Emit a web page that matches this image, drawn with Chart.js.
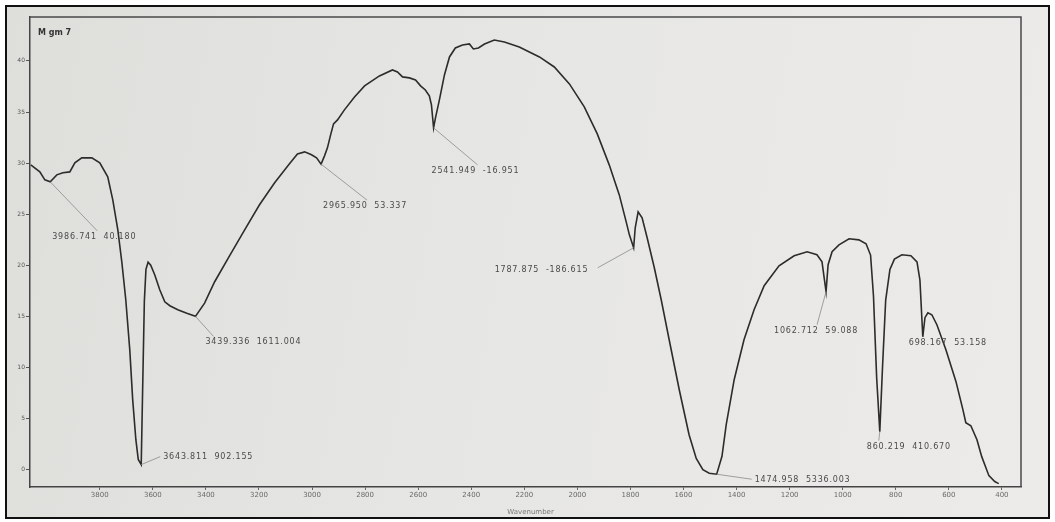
<!DOCTYPE html>
<html>
<head>
<meta charset="utf-8">
<script src="https://cdn.jsdelivr.net/npm/chart.js@4.4.0/dist/chart.umd.min.js"></script>
<style>
  html, body { margin: 0; padding: 0; background: #fff; }
  #sheet {
    position: absolute; left: 5px; top: 5px; width: 1041px; height: 510px;
    border: 2px solid #111;
    background: linear-gradient(100deg, #dededb 0%, #e6e6e4 45%, #ecebea 100%);
  }
  #wrap { position: absolute; left: 0; top: 0; width: 1055px; height: 522px; }
</style>
</head>
<body>
<div id="sheet"></div>
<div id="wrap"><canvas id="c" width="1055" height="522"></canvas></div>
<script>
// IR spectrum of sample "M gm 7": wavenumber (cm-1) against transmittance
const wavenumbers = [
  4060, 4026, 4007, 3986.741, 3962, 3939, 3913, 3894, 3868, 3830, 3800, 3770, 3751, 3732, 3717,
  3702, 3687, 3676, 3664, 3655, 3643.811, 3638, 3632, 3626, 3618, 3608, 3593, 3574, 3555, 3536,
  3506, 3472, 3439.336, 3405, 3367, 3311, 3254, 3198, 3141, 3085, 3055, 3028, 3002, 2983, 2965.950,
  2953, 2942, 2930, 2919, 2904, 2878, 2840, 2802, 2746, 2697, 2678, 2659, 2633, 2610, 2591,
  2573, 2558, 2550, 2541.949, 2535, 2520, 2501, 2482, 2460, 2433, 2407, 2392, 2373, 2350, 2313,
  2275, 2219, 2143, 2087, 2030, 1974, 1925, 1880, 1842, 1816, 1804, 1787.875, 1782, 1771, 1756,
  1737, 1710, 1684, 1654, 1616, 1579, 1552, 1527, 1503, 1474.958, 1455, 1439, 1409, 1372, 1334,
  1296, 1240, 1183, 1134, 1097, 1078, 1062.712, 1055, 1040, 1014, 976, 939, 912, 895, 884,
  872, 860.219, 850, 838, 822, 805, 777, 743, 720, 709, 698.167, 690, 679, 664, 645,
  611, 573, 547, 536, 517, 494, 476, 449, 427, 412
];
const transmittance = [
  29.83, 29.14, 28.36, 28.17, 28.85, 29.05, 29.14, 30.02, 30.51, 30.51, 30.02, 28.66, 26.41, 23.47, 20.34,
  16.63, 11.74, 6.85, 2.93, 1.0, 0.49, 8.5, 16.5, 19.6, 20.3, 20.0, 19.07, 17.6, 16.43, 16.04,
  15.65, 15.3, 15.0, 16.3, 18.39, 20.93, 23.47, 25.92, 28.07, 29.93, 30.90, 31.10, 30.81, 30.51, 29.9,
  30.71, 31.49, 32.76, 33.84, 34.23, 35.21, 36.48, 37.56, 38.53, 39.12, 38.92, 38.44, 38.34, 38.14, 37.56,
  37.16, 36.58, 35.7, 33.45, 34.4, 36.19, 38.63, 40.39, 41.27, 41.56, 41.66, 41.17, 41.27, 41.66, 42.05,
  41.86, 41.37, 40.39, 39.41, 37.75, 35.50, 32.86, 29.83, 26.89, 24.25, 22.98, 21.71, 23.67, 25.23, 24.65,
  22.69, 19.76, 16.63, 12.71, 7.82, 3.42, 1.1, 0.0, -0.35, -0.45, 1.3, 4.4, 8.80, 12.71, 15.65,
  18.0, 19.95, 20.93, 21.32, 21.03, 20.34, 17.41, 20.05, 21.32, 22.0, 22.59, 22.49, 22.10, 21.0, 17.0,
  9.0, 3.72, 10.0, 16.6, 19.6, 20.6, 21.03, 20.93, 20.34, 18.58, 13.0, 14.87, 15.35, 15.16, 14.18,
  11.74, 8.61, 5.87, 4.60, 4.30, 2.93, 1.27, -0.59, -1.17, -1.37
];

// Axis tick labels
const xTickValues = [3800, 3600, 3400, 3200, 3000, 2800, 2600, 2400, 2200, 2000, 1800, 1600, 1400, 1200, 1000, 800, 600, 400];
const yTickValues = [0, 5, 10, 15, 20, 25, 30, 35, 40];

// Peak picks: wavenumber, curve value at that wavenumber, printed second figure
const peakWavenumbers = [3986.741, 3643.811, 3439.336, 2965.950, 2541.949, 1787.875, 1474.958, 1062.712, 860.219, 698.167];
const peakValues      = [28.17, 0.49, 15.0, 29.9, 33.45, 21.71, -0.45, 17.41, 3.72, 13.0];
const peakReadouts    = ['40.180', '902.155', '1611.004', '53.337', '-16.951', '-186.615', '5336.003', '59.088', '410.670', '53.158'];

// Where each readout sits relative to its peak: [label dx, label dy, leader end dx, leader end dy]
const peakLabelLayout = [
  [2, 55, 47, 49], [22, -8, 19, -8], [10, 26, 18, 20], [2, 42, 46, 36], [-2, 43, 44, 37],
  [-139, 22, -36, 20], [38, 6, 35, 5], [-52, 39, -9, 33], [-13, 15, -1, 9], [-14, 6, 0, 0]
];

const points = wavenumbers.map((w, i) => ({ x: w, y: transmittance[i] }));

const decorations = {
  id: 'decorations',
  afterDatasetsDraw(chart) {
    const { ctx, chartArea: a, scales: { x, y } } = chart;
    ctx.save();
    // top and right edges of the plot frame
    ctx.strokeStyle = '#4a4a4a';
    ctx.lineWidth = 1.5;
    ctx.beginPath();
    ctx.moveTo(a.left, a.top);
    ctx.lineTo(a.right, a.top);
    ctx.lineTo(a.right, a.bottom);
    ctx.stroke();

    // sample name
    ctx.fillStyle = '#333';
    ctx.font = 'bold 8px "DejaVu Sans"';
    ctx.textBaseline = 'middle';
    ctx.fillText('M gm 7', a.left + 8, a.top + 16);

    // axis title
    ctx.fillStyle = '#777';
    ctx.font = '7px "DejaVu Sans"';
    ctx.textAlign = 'center';
    ctx.fillText('Wavenumber', (a.left + a.right) / 2 + 5, 512);

    // peak readouts with leader lines
    ctx.textAlign = 'left';
    ctx.font = '8px "DejaVu Sans"';
    ctx.letterSpacing = '0.8px';
    peakWavenumbers.forEach((w, i) => {
      const px = x.getPixelForValue(w);
      const py = y.getPixelForValue(peakValues[i]);
      const [lx, ly, ex, ey] = peakLabelLayout[i];
      if (ex !== 0 || ey !== 0) {
        ctx.strokeStyle = '#8a8a8a';
        ctx.lineWidth = 0.8;
        ctx.beginPath();
        ctx.moveTo(px, py);
        ctx.lineTo(px + ex, py + ey);
        ctx.stroke();
      }
      ctx.fillStyle = '#4a4a4a';
      ctx.fillText(w.toFixed(3) + '  ' + peakReadouts[i], px + lx, py + ly);
    });
    ctx.restore();
  }
};

new Chart(document.getElementById('c'), {
  type: 'line',
  data: {
    datasets: [{
      data: points,
      borderColor: '#2c2c2c',
      borderWidth: 1.6,
      pointRadius: 0,
      tension: 0,
      fill: false
    }]
  },
  options: {
    responsive: false,
    animation: false,
    devicePixelRatio: 1,
    layout: { padding: { left: 12, top: 17, right: 34, bottom: 23 } },
    plugins: { legend: { display: false }, tooltip: { enabled: false } },
    scales: {
      x: {
        type: 'linear',
        reverse: true,
        min: 328,
        max: 4063,
        afterBuildTicks: s => { s.ticks = xTickValues.map(v => ({ value: v })); },
        afterFit: s => { s.height = 12; },
        grid: { display: true, drawOnChartArea: false, drawTicks: true, tickLength: 3, color: '#666' },
        border: { display: true, color: '#444', width: 1.5 },
        ticks: {
          font: { size: 7, family: 'DejaVu Sans' }, color: '#6a6a6a', padding: 1,
          maxRotation: 0, autoSkip: false, callback: v => String(v)
        }
      },
      y: {
        type: 'linear',
        min: -1.7,
        max: 44.3,
        afterBuildTicks: s => { s.ticks = yTickValues.map(v => ({ value: v })); },
        afterFit: s => { s.width = 18; },
        grid: { display: true, drawOnChartArea: false, drawTicks: true, tickLength: 4, color: '#555' },
        border: { display: true, color: '#444', width: 1.5 },
        ticks: {
          font: { size: 6, family: 'DejaVu Sans' }, color: '#555', padding: 1,
          autoSkip: false, callback: v => String(v)
        }
      }
    }
  },
  plugins: [decorations]
});
</script>
</body>
</html>
